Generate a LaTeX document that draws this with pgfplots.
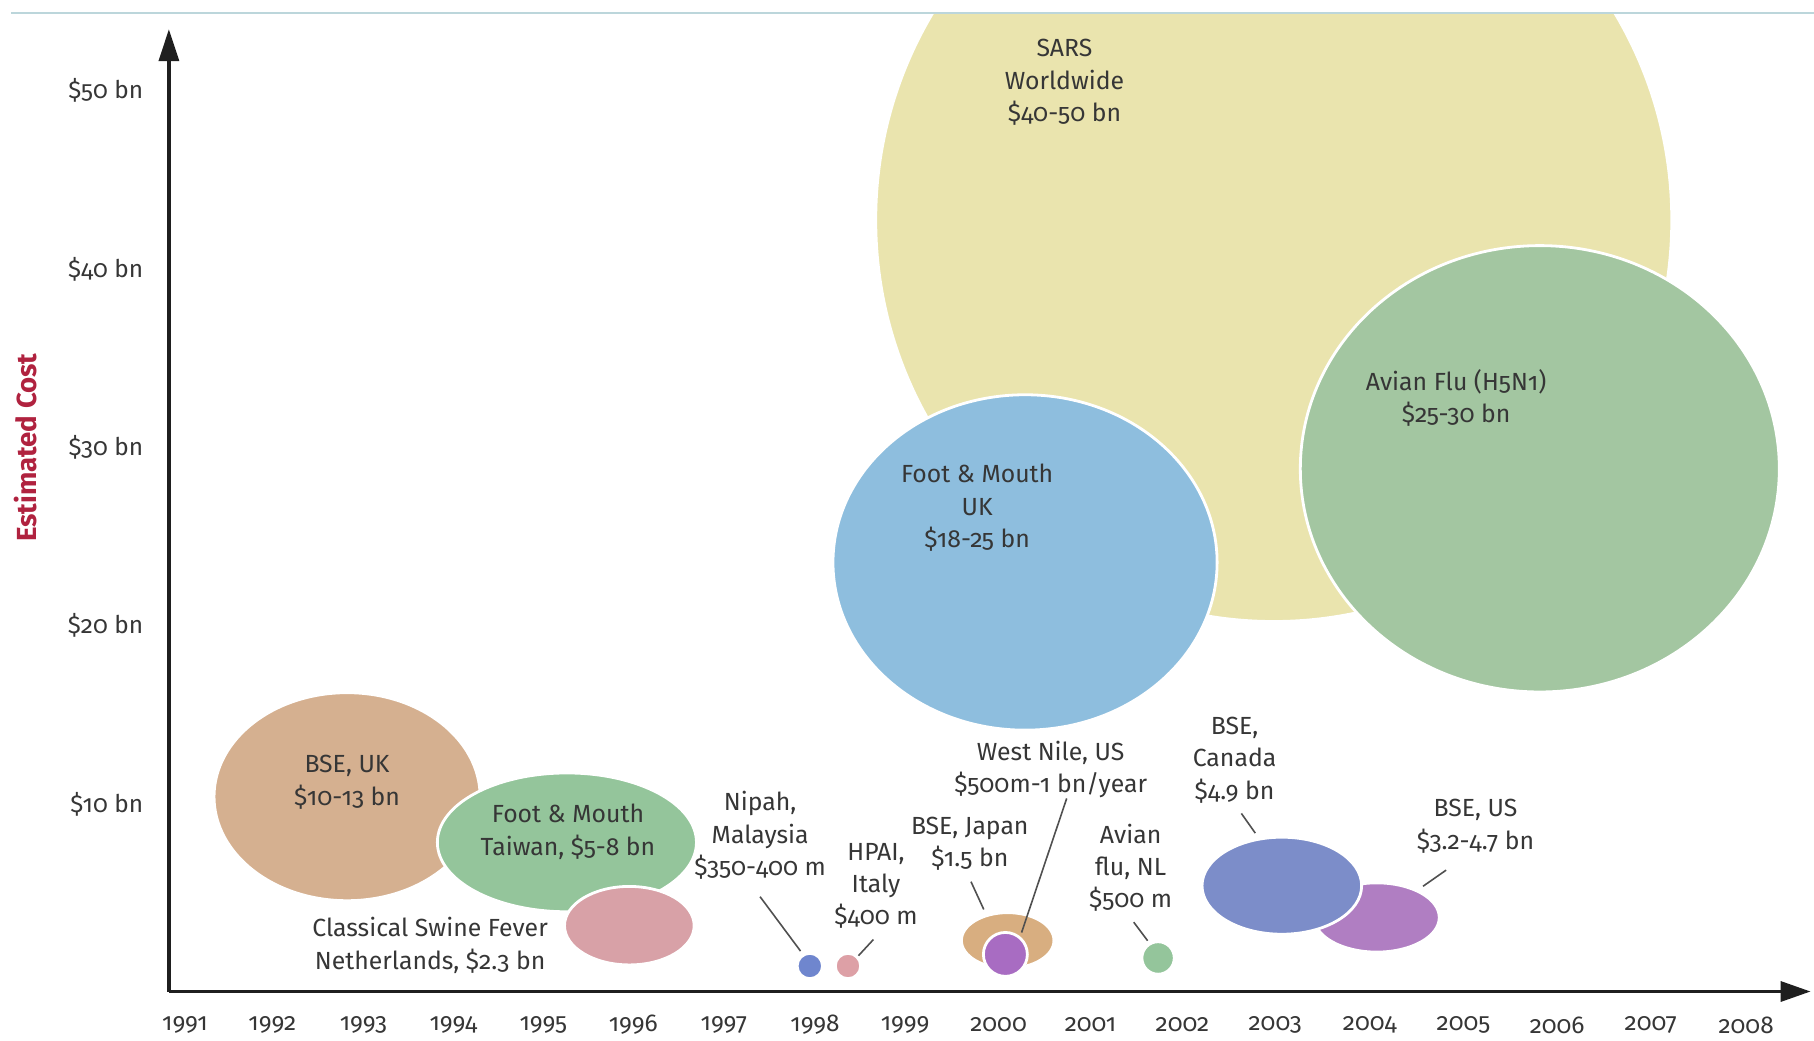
\documentclass[border=0pt]{standalone}
\usepackage{fontspec}
\setmainfont{Fira Sans}[Numbers=OldStyle]
\usepackage{pgfplots}
\pgfplotsset{compat=1.18}
\usepackage{pgfplotstable}
\usetikzlibrary{arrows.meta}

\definecolor{txt}{HTML}{363636}
\definecolor{ylab}{HTML}{B0223F}
\definecolor{rulec}{HTML}{BCD6DB}
\definecolor{leadc}{HTML}{505050}
\definecolor{cSARS}{RGB}{234,228,174}
\definecolor{cAVI}{RGB}{163,198,161}
\definecolor{cFMUK}{RGB}{142,190,222}
\definecolor{cBSEUK}{RGB}{213,176,144}
\definecolor{cFMTW}{RGB}{148,197,155}
\definecolor{cCSF}{RGB}{216,161,167}
\definecolor{cNIP}{RGB}{111,134,206}
\definecolor{cHPAI}{RGB}{221,160,166}
\definecolor{cBSEJP}{RGB}{216,174,128}
\definecolor{cWN}{RGB}{168,108,194}
\definecolor{cAVNL}{RGB}{148,197,155}
\definecolor{cBSEUS}{RGB}{176,126,194}
\definecolor{cBSECA}{RGB}{124,141,201}

% x, y = centre (year, $ bn); rx, ry = half-width (years) and half-height ($ bn); c = class
\pgfplotstableread{
x y rx ry c
2002.866 42.74 4.329 22.50 sars
2005.760 28.80 2.605 12.51 avi
2000.161 23.55 2.089 9.40 fmuk
1992.787 10.42 1.447 5.83 bseuk
1995.178 7.86 1.409 3.89 fmtw
1995.857 3.19 0.705 2.20 csf
1997.820 0.93 0.138 0.71 nip
1998.235 0.93 0.138 0.71 hpai
1999.972 2.36 0.503 1.56 bsejp
1999.947 1.58 0.239 1.23 wn
2001.608 1.38 0.176 0.91 avnl
2003.986 3.65 0.680 1.94 bseus
2002.954 5.43 0.868 2.72 bseca
}\bubbles

\begin{document}
\begin{tikzpicture}[
  lab/.style={align=center, text=txt, font=\fontsize{12.4}{16.2}\selectfont, inner sep=0pt},
  leader/.style={draw=leadc, line width=0.8pt}]
\begin{axis}[
  at={(0,0)}, anchor=south west,
  x=45.97pt, y=8.92pt,
  xmin=1990.849, xmax=2008.705, ymin=-0.5, ymax=54.35,
  axis x line=bottom, axis y line=left,
  axis line style={line width=1.7pt, draw=black!88},
  x axis line style={-{Triangle[length=15pt,width=10pt]}},
  y axis line style={-{Triangle[length=16pt,width=10pt]}, shorten >=8.1pt},
  xtick={1991.024,1991.974,1992.964,1993.943,1994.922,1995.901,1996.885,1997.877,1998.856,
         1999.873,2000.873,2001.873,2002.881,2003.911,2004.930,2005.949,2006.967,2008.004},
  xticklabels={1991,1992,1993,1994,1995,1996,1997,1998,1999,2000,2001,2002,2003,2004,2005,2006,2007,2008},
  ytick={10,20,30,40,50},
  yticklabels={\$10 bn,\$20 bn,\$30 bn,\$40 bn,\$50 bn},
  major tick length=0pt, tick style={draw=none},
  xticklabel style={anchor=center, yshift=-16.8pt, text=txt, font=\fontsize{12.2}{14}\selectfont},
  yticklabel style={anchor=east, inner sep=0pt, xshift=-12.7pt, text=txt, font=\fontsize{12.2}{14}\selectfont},
  ylabel={Estimated Cost},
  every axis y label/.style={at={(axis description cs:-0.0873,0.5557)}, rotate=90, anchor=center,
     text=ylab, font=\fontsize{13.8}{15}\selectfont\bfseries},
  clip marker paths=true,
]
\addplot[scatter, only marks, mark=*, mark size=1pt,
  point meta=explicit symbolic,
  scatter/classes={
    sars={fill=cSARS, draw=white},
    avi={fill=cAVI, draw=white},
    fmuk={fill=cFMUK, draw=white},
    bseuk={fill=cBSEUK, draw=white},
    fmtw={fill=cFMTW, draw=white},
    csf={fill=cCSF, draw=white},
    nip={fill=cNIP, draw=white},
    hpai={fill=cHPAI, draw=white},
    bsejp={fill=cBSEJP, draw=white},
    wn={fill=cWN, draw=white},
    avnl={fill=cAVNL, draw=white},
    bseus={fill=cBSEUS, draw=white},
    bseca={fill=cBSECA, draw=white}},
  visualization depends on={45.97*\thisrow{rx} \as \rxs},
  visualization depends on={8.92*\thisrow{ry} \as \rys},
  scatter/@pre marker code/.append style={/tikz/xscale=\rxs, /tikz/yscale=\rys},
  mark options={line width=1.4pt},
] table[x=x, y=y, meta=c] \bubbles;

\node[lab] at (axis cs:2000.59,50.45) {SARS\\Worldwide\\\$40-50 bn};
\node[lab] at (axis cs:2004.85,32.76) {Avian Flu (H5N1)\\\$25-30 bn};
\node[lab] at (axis cs:1999.64,26.60) {Foot \& Mouth\\UK\\\$18-25 bn};
\node[lab] at (axis cs:1992.787,11.23) {BSE, UK\\\$10-13 bn};
\node[lab] at (axis cs:1995.19,8.45) {Foot \& Mouth\\Taiwan, \$5-8 bn};
\node[lab] at (axis cs:1993.69,2.09) {Classical Swine Fever\\Netherlands, \$2.3 bn};
\node[lab] at (axis cs:1997.28,8.24) {Nipah,\\Malaysia\\\$350-400 m};
\node[lab] at (axis cs:1998.54,5.42) {HPAI,\\Italy\\\$400 m};
\node[lab] at (axis cs:1999.56,7.79) {BSE, Japan\\\$1.5 bn};
\node[lab] at (axis cs:2000.44,11.94) {West Nile, US\\\$500m-1 bn/year};
\node[lab] at (axis cs:2001.31,6.44) {Avian\\flu, NL\\\$500 m};
\node[lab] at (axis cs:2002.44,12.47) {BSE,\\Canada\\\$4.9 bn};
\node[lab] at (axis cs:2005.06,8.77) {BSE, US\\\$3.2-4.7 bn};

\draw[leader] (axis cs:1997.279,4.814) -- (axis cs:1997.719,1.767);
\draw[leader] (axis cs:1998.512,2.415) -- (axis cs:1998.349,1.507);
\draw[leader] (axis cs:1999.573,5.656) -- (axis cs:1999.712,4.100);
\draw[leader] (axis cs:2000.614,10.324) -- (axis cs:2000.123,2.804);
\draw[leader] (axis cs:2001.343,3.387) -- (axis cs:2001.494,2.350);
\draw[leader] (axis cs:2002.514,9.481) -- (axis cs:2002.665,8.379);
\draw[leader] (axis cs:2004.741,6.304) -- (axis cs:2004.489,5.397);
\end{axis}
\draw[rulec, line width=1.2pt] (-78.7pt,489.3pt) -- (822.55pt,489.3pt);
\pgfresetboundingbox
\path[use as bounding box] (-84.45pt,-24.25pt) rectangle (822.55pt,495.75pt);
\end{tikzpicture}
\end{document}
